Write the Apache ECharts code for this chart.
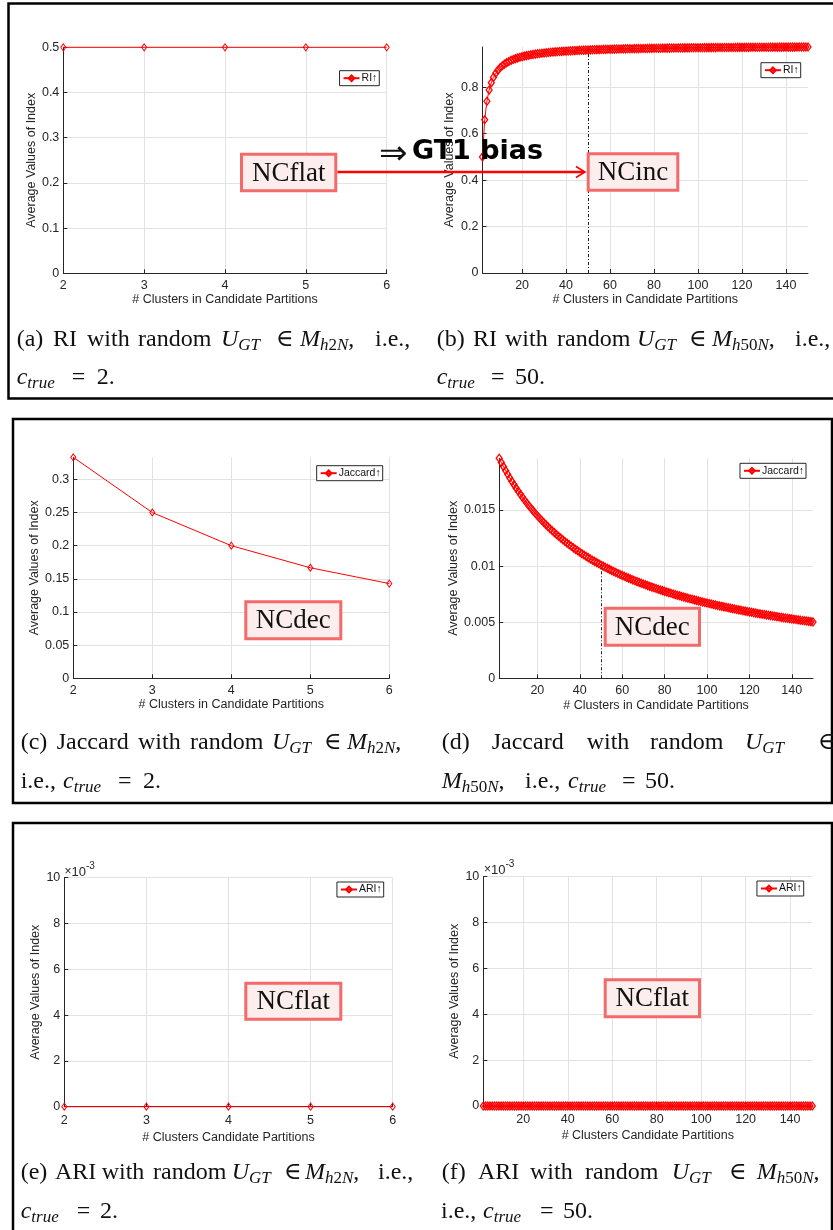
<!DOCTYPE html>
<html><head><meta charset="utf-8">
<script src="https://cdn.jsdelivr.net/npm/echarts@6/dist/echarts.min.js"></script>
<style>html,body{margin:0;padding:0;background:#fff}#c{width:833px;height:1230px}</style>
</head><body><div id="c"></div>
<script>
// ---------------- data ----------------
const kSmall = [2, 3, 4, 5, 6];
const kLarge = [
  2,3,4,5,6,7,8,9,10,11,
  12,13,14,15,16,17,18,19,20,21,
  22,23,24,25,26,27,28,29,30,31,
  32,33,34,35,36,37,38,39,40,41,
  42,43,44,45,46,47,48,49,50,51,
  52,53,54,55,56,57,58,59,60,61,
  62,63,64,65,66,67,68,69,70,71,
  72,73,74,75,76,77,78,79,80,81,
  82,83,84,85,86,87,88,89,90,91,
  92,93,94,95,96,97,98,99,100,101,
  102,103,104,105,106,107,108,109,110,111,
  112,113,114,115,116,117,118,119,120,121,
  122,123,124,125,126,127,128,129,130,131,
  132,133,134,135,136,137,138,139,140,141,
  142,143,144,145,146,147,148,149,150
];
const riSmall = [0.5, 0.5, 0.5, 0.5, 0.5];
const riLarge = [
  0.5,0.66,0.74,0.788,0.82,0.8429,0.86,0.8733,0.884,0.8927,
  0.9,0.9062,0.9114,0.916,0.92,0.9235,0.9267,0.9295,0.932,0.9343,
  0.9364,0.9383,0.94,0.9416,0.9431,0.9444,0.9457,0.9469,0.948,0.949,
  0.95,0.9509,0.9518,0.9526,0.9533,0.9541,0.9547,0.9554,0.956,0.9566,
  0.9571,0.9577,0.9582,0.9587,0.9591,0.9596,0.96,0.9604,0.9608,0.9612,
  0.9615,0.9619,0.9622,0.9625,0.9629,0.9632,0.9634,0.9637,0.964,0.9643,
  0.9645,0.9648,0.965,0.9652,0.9655,0.9657,0.9659,0.9661,0.9663,0.9665,
  0.9667,0.9668,0.967,0.9672,0.9674,0.9675,0.9677,0.9678,0.968,0.9681,
  0.9683,0.9684,0.9686,0.9687,0.9688,0.969,0.9691,0.9692,0.9693,0.9695,
  0.9696,0.9697,0.9698,0.9699,0.97,0.9701,0.9702,0.9703,0.9704,0.9705,
  0.9706,0.9707,0.9708,0.9709,0.9709,0.971,0.9711,0.9712,0.9713,0.9714,
  0.9714,0.9715,0.9716,0.9717,0.9717,0.9718,0.9719,0.9719,0.972,0.9721,
  0.9721,0.9722,0.9723,0.9723,0.9724,0.9724,0.9725,0.9726,0.9726,0.9727,
  0.9727,0.9728,0.9728,0.9729,0.9729,0.973,0.973,0.9731,0.9731,0.9732,
  0.9732,0.9733,0.9733,0.9734,0.9734,0.9735,0.9735,0.9736,0.9736
];
const jacSmall = [0.3333, 0.25, 0.2, 0.1667, 0.1429];
const jacLarge = [
  0.019608,0.019231,0.018868,0.018519,0.018182,0.017857,0.017544,0.017241,0.016949,0.016667,
  0.016393,0.016129,0.015873,0.015625,0.015385,0.015152,0.014925,0.014706,0.014493,0.014286,
  0.014085,0.013889,0.013699,0.013514,0.013333,0.013158,0.012987,0.012821,0.012658,0.0125,
  0.012346,0.012195,0.012048,0.011905,0.011765,0.011628,0.011494,0.011364,0.011236,0.011111,
  0.010989,0.01087,0.010753,0.010638,0.010526,0.010417,0.010309,0.010204,0.010101,0.01,
  0.009901,0.009804,0.009709,0.009615,0.009524,0.009434,0.009346,0.009259,0.009174,0.009091,
  0.009009,0.008929,0.00885,0.008772,0.008696,0.008621,0.008547,0.008475,0.008403,0.008333,
  0.008264,0.008197,0.00813,0.008065,0.008,0.007937,0.007874,0.007813,0.007752,0.007692,
  0.007634,0.007576,0.007519,0.007463,0.007407,0.007353,0.007299,0.007246,0.007194,0.007143,
  0.007092,0.007042,0.006993,0.006944,0.006897,0.006849,0.006803,0.006757,0.006711,0.006667,
  0.006623,0.006579,0.006536,0.006494,0.006452,0.00641,0.006369,0.006329,0.006289,0.00625,
  0.006211,0.006173,0.006135,0.006098,0.006061,0.006024,0.005988,0.005952,0.005917,0.005882,
  0.005848,0.005814,0.00578,0.005747,0.005714,0.005682,0.00565,0.005618,0.005587,0.005556,
  0.005525,0.005495,0.005464,0.005435,0.005405,0.005376,0.005348,0.005319,0.005291,0.005263,
  0.005236,0.005208,0.005181,0.005155,0.005128,0.005102,0.005076,0.005051,0.005025
];
const ariSmall = [0, 0, 0, 0, 0];
const ariLarge = [
  0,0,0,0,0,0,0,0,0,0,
  0,0,0,0,0,0,0,0,0,0,
  0,0,0,0,0,0,0,0,0,0,
  0,0,0,0,0,0,0,0,0,0,
  0,0,0,0,0,0,0,0,0,0,
  0,0,0,0,0,0,0,0,0,0,
  0,0,0,0,0,0,0,0,0,0,
  0,0,0,0,0,0,0,0,0,0,
  0,0,0,0,0,0,0,0,0,0,
  0,0,0,0,0,0,0,0,0,0,
  0,0,0,0,0,0,0,0,0,0,
  0,0,0,0,0,0,0,0,0,0,
  0,0,0,0,0,0,0,0,0,0,
  0,0,0,0,0,0,0,0,0,0,
  0,0,0,0,0,0,0,0,0
];
const cTrue = 50;
const xTicksLarge = [20, 40, 60, 80, 100, 120, 140];
const yTicksRI = [0, 0.2, 0.4, 0.6, 0.8];
const yTicksJacSmall = [0, 0.05, 0.1, 0.15, 0.2, 0.25, 0.3];
const yTicksJacLarge = [0, 0.005, 0.01, 0.015];
const seriesNames = ['RI\u2191', 'RI\u2191', 'Jaccard\u2191', 'Jaccard\u2191', 'ARI\u2191', 'ARI\u2191'];
const xTitles = ['# Clusters in Candidate Partitions', '# Clusters in Candidate Partitions',
  '# Clusters in Candidate Partitions', '# Clusters in Candidate Partitions',
  '# Clusters Candidate Partitions', '# Clusters Candidate Partitions'];
const yTitle = 'Average Values of Index';

// ---------------- layout ----------------
const SANS = 'Liberation Sans, Arial, Helvetica, sans-serif';
const SERIF = 'Liberation Serif, DejaVu Serif, Times New Roman, serif';
const AX = '#262626';
const GRIDC = '#e2e2e2';
const grids = [
  {left: 63.3, top: 47.3, width: 323.4, height: 226},
  {left: 482.5, top: 47, width: 325.5, height: 226},
  {left: 73.3, top: 457.3, width: 316, height: 221},
  {left: 499.2, top: 458.3, width: 313.8, height: 220},
  {left: 64.3, top: 877.7, width: 328.4, height: 229},
  {left: 483.3, top: 876.7, width: 329, height: 229.3}
];
const xNameGap = [19, 20.5, 19.5, 20.5, 24.5, 23.5];
const yNameGap = [24.5, 26, 30, 38, 21, 22];
const xLabelMargin = [6, 6, 6, 6, 7, 7];

function pairs(xs, ys) { return xs.map((x, i) => [x, ys[i]]); }

const xAxes = grids.map((g, i) => {
  const large = i % 2 === 1;
  const ax = {
    gridIndex: i, type: 'value', min: large ? kLarge[0] : kSmall[0],
    max: large ? kLarge[kLarge.length - 1] : kSmall[kSmall.length - 1],
    name: xTitles[i], nameLocation: 'middle', nameGap: xNameGap[i],
    nameTextStyle: {fontFamily: SANS, fontSize: 12.5, color: AX},
    axisLine: {onZero: false, lineStyle: {color: AX, width: 1}},
    axisTick: {inside: true, length: 4, lineStyle: {color: AX}},
    axisLabel: {fontFamily: SANS, fontSize: 12.5, color: AX, margin: xLabelMargin[i]},
    splitLine: {show: true, lineStyle: {color: GRIDC, width: 1}}
  };
  if (large) {
    ax.axisLabel.customValues = xTicksLarge;
    ax.axisTick.customValues = xTicksLarge;
  } else {
    ax.interval = 1;
  }
  return ax;
});

const yCustom = [null, yTicksRI, yTicksJacSmall, yTicksJacLarge, null, null];
const yMax = [0.5, Math.max(...riLarge), Math.max(...jacSmall), Math.max(...jacLarge), 0.01, 0.01];
const yAxes = grids.map((g, i) => {
  const ax = {
    gridIndex: i, type: 'value', min: 0, max: yMax[i],
    name: yTitle, nameLocation: 'middle', nameGap: yNameGap[i], nameRotate: 90,
    nameTextStyle: {fontFamily: SANS, fontSize: 12.5, color: AX},
    axisLine: {show: true, onZero: false, lineStyle: {color: AX, width: 1}},
    axisTick: {show: true, inside: true, length: 4, lineStyle: {color: AX}},
    axisLabel: {fontFamily: SANS, fontSize: 12.5, color: AX, margin: 4},
    splitLine: {show: true, lineStyle: {color: GRIDC, width: 1}}
  };
  if (yCustom[i]) {
    ax.axisLabel.customValues = yCustom[i];
    ax.axisTick.customValues = yCustom[i];
  } else if (i === 0) {
    ax.interval = 0.1;
  } else {
    ax.interval = 0.002;
    ax.axisLabel.formatter = v => String(Math.round(v * 1000));
  }
  return ax;
});

const seriesData = [
  pairs(kSmall, riSmall), pairs(kLarge, riLarge),
  pairs(kSmall, jacSmall), pairs(kLarge, jacLarge),
  pairs(kSmall, ariSmall), pairs(kLarge, ariLarge)
];
const series = seriesData.map((d, i) => {
  const large = i % 2 === 1;
  const s = {
    type: 'line', name: seriesNames[i], xAxisIndex: i, yAxisIndex: i, data: d,
    symbol: 'diamond', symbolSize: large ? [6, 8] : [5, 7], showSymbol: true, clip: false,
    lineStyle: {color: '#ff0000', width: 1},
    itemStyle: {color: 'rgba(255,255,255,0)', borderColor: '#ff0000', borderWidth: large ? 1.3 : 1},
    emphasis: {disabled: true}, z: 3, animation: false
  };
  if (i === 1 || i === 3) {
    const src = i === 1 ? riLarge : jacLarge;
    s.markLine = {
      silent: true, symbol: ['none', 'none'], label: {show: false},
      lineStyle: {color: '#222', type: [3, 2, 1, 2], width: 1},
      data: [[{coord: [cTrue, 0]}, {coord: [cTrue, src[kLarge.indexOf(cTrue)]]}]],
      animation: false
    };
  }
  return s;
});

const legendPos = [
  {right: 453.7, top: 70.7}, {right: 32.3, top: 62.7},
  {right: 450.3, top: 465.7}, {right: 27, top: 463.3},
  {right: 449.3, top: 882}, {right: 29.3, top: 881}
];
const legends = legendPos.map((p, i) => ({
  right: p.right, top: p.top, data: [seriesNames[i]], selectedMode: false,
  backgroundColor: '#fff', borderColor: AX, borderWidth: 1, borderRadius: 0,
  padding: [2, 2, 2, 3], itemWidth: 16, itemHeight: 7, itemGap: 0,
  textStyle: {fontFamily: SANS, fontSize: 10.5, color: '#111', padding: [0, 0, 0, -3]}
}));

// ---------------- graphics ----------------
const capRich = {
  r: {fontFamily: SERIF, fontSize: 24, fill: '#111'},
  i: {fontFamily: SERIF, fontSize: 24, fontStyle: 'italic', fill: '#111'},
  s: {fontFamily: SERIF, fontSize: 17, fontStyle: 'italic', fill: '#111', padding: [12, 0, 0, 0]},
  sr: {fontFamily: SERIF, fontSize: 17, fill: '#111', padding: [12, 0, 0, 0]}
};
const UGT = '{i|U}{s|GT}';
const M2 = '{i|M}{s|h}{sr|2}{s|N}{r|,}';
const M50 = '{i|M}{s|h}{sr|50}{s|N}{r|,}';
const CT = '{i|c}{s|true}';
const captionLines = [
  [340, [[16.7, '{r|(a)}'], [53, '{r|RI}'], [87, '{r|with}'], [138, '{r|random}'], [221, UGT], [276, '{r|\u2208}'], [300, M2], [375, '{r|i.e.,}']]],
  [378, [[16.7, CT], [71.7, '{r|=}'], [96.7, '{r|2.}']]],
  [340, [[436.7, '{r|(b)}'], [473, '{r|RI}'], [505, '{r|with}'], [557, '{r|random}'], [637, UGT], [689, '{r|\u2208}'], [712, M50], [795, '{r|i.e.,}']]],
  [378, [[436.7, CT], [491, '{r|=}'], [515, '{r|50.}']]],
  [743, [[20.7, '{r|(c)}'], [56.7, '{r|Jaccard}'], [138, '{r|with}'], [190, '{r|random}'], [272, UGT], [324, '{r|\u2208}'], [347, M2]]],
  [781.7, [[20.7, '{r|i.e.,}'], [63, CT], [118, '{r|=}'], [143, '{r|2.}']]],
  [743, [[441.7, '{r|(d)}'], [491.7, '{r|Jaccard}'], [586.7, '{r|with}'], [650, '{r|random}'], [745, UGT], [818, '{r|\u2208}']]],
  [781.7, [[441.7, M50], [525, '{r|i.e.,}'], [568, CT], [622, '{r|=}'], [645, '{r|50.}']]],
  [1172.7, [[20.7, '{r|(e)}'], [55, '{r|ARI}'], [101.7, '{r|with}'], [153, '{r|random}'], [231.7, UGT], [284, '{r|\u2208}'], [305, M2], [378, '{r|i.e.,}']]],
  [1211.7, [[20.7, CT], [76.7, '{r|=}'], [100, '{r|2.}']]],
  [1172.7, [[441.7, '{r|(f)}'], [478, '{r|ARI}'], [530, '{r|with}'], [585, '{r|random}'], [671.7, UGT], [729, '{r|\u2208}'], [756.7, M50]]],
  [1211.7, [[441, '{r|i.e.,}'], [483, CT], [540, '{r|=}'], [563, '{r|50.}']]]
];

const graphics = [];
// section frames
[[8.5, 3.5, 850, 395], [13, 419, 819, 384], [13, 823, 819, 440]].forEach(r => {
  graphics.push({type: 'rect', z: 1, silent: true,
    shape: {x: r[0], y: r[1], width: r[2], height: r[3]},
    style: {fill: 'none', stroke: '#000', lineWidth: 2.5}});
});
// captions
captionLines.forEach(([y, words]) => {
  words.forEach(([x, t]) => {
    graphics.push({type: 'text', x: x, y: y, z: 20, silent: true,
      style: {text: t, rich: capRich, verticalAlign: 'middle', align: 'left', fontFamily: SERIF, fontSize: 24, fill: '#111'}});
  });
});
// annotation boxes
const notes = [
  [240, 152.7, 97.3, 39.6, 'NCflat'],
  [586.7, 152.3, 92.6, 39.4, 'NCinc'],
  [244.3, 600.3, 98, 40, 'NCdec'],
  [603.7, 606.7, 97.3, 40, 'NCdec'],
  [244.3, 981.7, 98, 39, 'NCflat'],
  [603.7, 978.3, 97.3, 40, 'NCflat']
];
notes.forEach(([x, y, w, h, t]) => {
  graphics.push({type: 'rect', z: 30, silent: true,
    shape: {x: x + 1.5, y: y + 1.5, width: w - 3, height: h - 3},
    style: {fill: '#fdeeee', stroke: '#f26a6a', lineWidth: 3}});
  graphics.push({type: 'text', z: 31, silent: true, x: x + w / 2, y: y + h / 2 + 1,
    style: {text: t, fontFamily: SERIF, fontSize: 27, fill: '#111', align: 'center', verticalAlign: 'middle'}});
});
// arrow between NCflat and NCinc
graphics.push({type: 'line', z: 29, silent: true, shape: {x1: 337.3, y1: 172, x2: 584, y2: 172},
  style: {stroke: '#ff0000', lineWidth: 2.5}});
graphics.push({type: 'polyline', z: 29, silent: true, shape: {points: [[576, 166.5], [585, 172], [576, 177.5]]},
  style: {stroke: '#ff0000', lineWidth: 1.6, fill: 'none'}});
graphics.push({type: 'text', z: 32, silent: true, x: 379, y: 155,
  style: {text: '\u21D2', fontFamily: 'DejaVu Sans', fontSize: 34, fill: '#111', align: 'left', verticalAlign: 'middle'}});
graphics.push({type: 'text', z: 32, silent: true, x: 412, y: 152.4,
  style: {text: 'GT1 bias', fontFamily: 'DejaVu Sans', fontWeight: 'bold', fontSize: 27, fill: '#000', align: 'left', verticalAlign: 'middle'}});
// x10^-3 exponents
const expRich = {
  a: {fontFamily: SANS, fontSize: 13, fill: AX},
  m: {fontFamily: SANS, fontSize: 12, fill: AX},
  b: {fontFamily: SANS, fontSize: 10, fill: AX, padding: [0, 0, 11, 0]}
};
[[64.5, 872], [484, 870]].forEach(([x, y]) => {
  graphics.push({type: 'text', z: 20, silent: true, x: x, y: y,
    style: {text: '{m|\u00D7}{a|10}{b|-3}', rich: expRich, align: 'left', verticalAlign: 'middle'}});
});

const option = {
  animation: false,
  backgroundColor: '#fff',
  grid: grids.map(g => Object.assign({containLabel: false}, g)),
  xAxis: xAxes,
  yAxis: yAxes,
  legend: legends,
  series: series,
  graphic: {elements: graphics}
};
const chart = echarts.init(document.getElementById('c'), null, {renderer: 'canvas'});
chart.setOption(option);
</script>
</body></html>
